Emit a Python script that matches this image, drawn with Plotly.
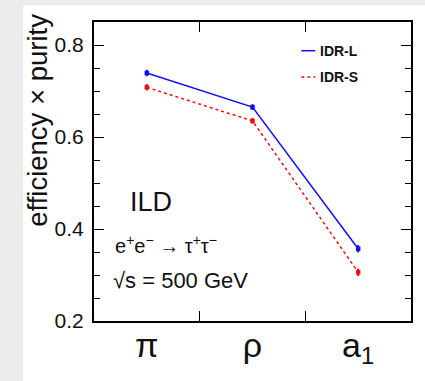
import plotly.graph_objects as go

# Decay channels and tau-ID efficiency x purity for the two ILD detector options
channels = ["π", "ρ", "a<sub>1</sub>"]
series_names = ["IDR-L", "IDR-S"]
idr_l = [0.739, 0.665, 0.357]
idr_s = [0.708, 0.635, 0.306]
idr_l_err = [0.005, 0.004, 0.006]
idr_s_err = [0.005, 0.004, 0.006]
y_ticks = [0.2, 0.4, 0.6, 0.8]

FONT = "Liberation Sans, Arial, Helvetica, sans-serif"
W, H = 425, 381
ML, MR, MT, MB = 94, 13, 22, 57
PW, PH = W - ML - MR, H - MT - MB


def px(xp):
    return (xp - ML) / PW


def py(yp):
    return (H - MB - yp) / PH


xpos = [i + 0.5 for i in range(len(channels))]

fig = go.Figure()
fig.add_trace(go.Scatter(
    x=xpos, y=idr_l, name=series_names[0], mode="lines+markers",
    line=dict(color="#1010ee", width=1.5),
    marker=dict(symbol="square", size=4.5, color="#1010ee"),
    error_y=dict(type="data", array=idr_l_err, color="#1010ee", thickness=2, width=1),
    showlegend=False,
))
fig.add_trace(go.Scatter(
    x=xpos, y=idr_s, name=series_names[1], mode="lines+markers",
    line=dict(color="#ee1010", width=1.5, dash="dot"),
    marker=dict(symbol="square", size=4.5, color="#ee1010"),
    error_y=dict(type="data", array=idr_s_err, color="#ee1010", thickness=2, width=1),
    showlegend=False,
))
# invisible trace carrying the category labels on a second x axis
fig.add_trace(go.Scatter(x=xpos, y=[None] * len(xpos), xaxis="x2",
                         showlegend=False, hoverinfo="skip"))

axis_line = dict(showline=True, linecolor="black", linewidth=2, mirror="ticks",
                 showgrid=False, zeroline=False)

fig.update_layout(
    width=W, height=H,
    margin=dict(l=ML, r=MR, t=MT, b=MB),
    paper_bgcolor="#ececec",
    plot_bgcolor="white",
    font=dict(family=FONT, color="#111"),
    xaxis=dict(range=[0, 3], tickvals=[1, 2], ticks="inside", ticklen=10,
               tickwidth=1.2, tickcolor="black", showticklabels=False, **axis_line),
    xaxis2=dict(range=[0, 3], overlaying="x", side="bottom", tickvals=xpos,
                ticktext=channels, ticks="", showline=False, showgrid=False,
                zeroline=False, tickfont=dict(size=34, family=FONT, color="#111"),
                ticklabelstandoff=1),
    yaxis=dict(range=[0.2, 0.85], tickvals=y_ticks, ticktext=[f"{v:.1f}" for v in y_ticks],
               ticks="inside", ticklen=10, tickwidth=1.2, tickcolor="black",
               tickfont=dict(size=21, family=FONT, color="#111"), ticklabelstandoff=4,
               minor=dict(dtick=0.05, ticks="inside", ticklen=6, tickwidth=1.2,
                          tickcolor="black", showgrid=False),
               **axis_line),
    showlegend=False,
)

shapes = [
    # white canvas over the grey page background
    dict(type="rect", xref="paper", yref="paper", layer="below",
         x0=px(23), x1=px(W + 5), y0=py(H + 5), y1=py(5),
         fillcolor="white", line=dict(width=0)),
]

# hand-built legend
legend_rows = [(series_names[0], "#1010ee", "solid", 51),
               (series_names[1], "#ee1010", "dot", 77.5)]
annotations = []
for name, color, dash, yrow in legend_rows:
    shapes.append(dict(type="line", xref="paper", yref="paper",
                       x0=px(302), x1=px(316), y0=py(yrow), y1=py(yrow),
                       line=dict(color=color, width=1.5, dash=dash)))
    annotations.append(dict(text=f"<b>{name}</b>", xref="paper", yref="paper",
                            x=px(319), y=py(yrow), xanchor="left", yanchor="middle",
                            showarrow=False, font=dict(size=14, family=FONT, color="#111")))

annotations += [
    dict(text="efficiency × purity", xref="paper", yref="paper", textangle=-90,
         x=px(37), y=py(12), xanchor="center", yanchor="top", showarrow=False,
         font=dict(size=27.5, family=FONT, color="#111")),
    dict(text="ILD", xref="paper", yref="paper", x=px(128), y=py(204),
         xanchor="left", yanchor="middle", showarrow=False,
         font=dict(size=27, family=FONT, color="#111")),
    dict(text="e<sup>+</sup>e<sup>−</sup> → τ<sup>+</sup>τ<sup>−</sup>", xref="paper",
         yref="paper", x=px(113), y=py(247), xanchor="left", yanchor="middle",
         showarrow=False, font=dict(size=20, family=FONT, color="#111")),
    dict(text="√s = 500 GeV", xref="paper", yref="paper", x=px(111), y=py(283),
         xanchor="left", yanchor="middle", showarrow=False,
         font=dict(size=22, family=FONT, color="#111")),
]

fig.update_layout(shapes=shapes, annotations=annotations)
fig.write_html("out.html")
